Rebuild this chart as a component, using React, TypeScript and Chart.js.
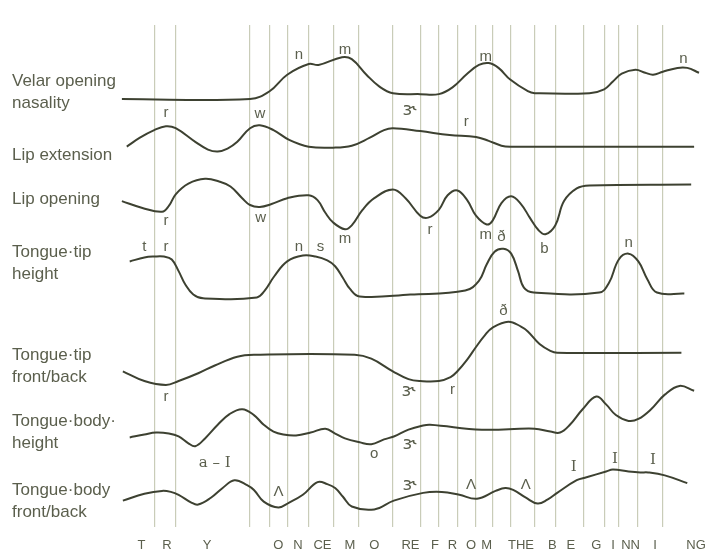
import { useEffect, useRef } from "react";
import { Chart, registerables } from "chart.js";
Chart.register(...registerables);

// Row titles (left) and the level each sits at
const rowTitles: string[][] = [
  ["Velar opening", "nasality"],
  ["Lip extension"],
  ["Lip opening"],
  ["Tongue·tip", "height"],
  ["Tongue·tip", "front/back"],
  ["Tongue·body·", "height"],
  ["Tongue·body", "front/back"],
];
const rowLevels = [447, 382, 337, 271, 165, 97, 26.5];

// Segment boundaries (time units)
const boundaries = [38, 60, 136, 156, 174, 196, 221, 247, 282, 310, 329, 348, 367, 384, 402, 427, 448, 477, 498, 513, 532, 558];

// Spelled utterance under the time axis
const words = ["T", "R", "Y", "O", "N", "CE", "M", "O", "RE", "F", "R", "O", "M", "THE", "B", "E", "G", "I", "NN", "I", "NG"];
const wordTimes = [25, 51, 92, 165, 185, 210, 238, 263, 300, 325, 343, 362, 378, 413, 445, 464, 490, 507, 525, 550, 592];

// Articulator trajectories: [time, level]
const velar: number[][] = [[5,440],[136,440],[156,448],[174,465],[196,476],[206,475],[230,483],[240,481],[255,465],[268,453],[282,446],[310,445],[329,445],[343,452],[358,466],[370,475],[380,477],[390,472],[402,460],[420,448],[427,446],[483,446],[498,450],[507,458],[516,466],[530,470],[540,467],[548,465],[558,468],[573,472],[583,472],[595,467]];
const lipExt: number[][] = [[10,391],[23,400],[38,408],[50,412],[60,410],[80,396],[93,388],[103,386],[113,389],[123,396],[136,410],[146,413],[160,408],[176,398],[196,391],[221,390],[240,392],[258,400],[273,408],[282,410],[310,407],[340,403],[367,401],[380,397],[393,392],[402,391],[590,391]];
const lipOpen: number[][] = [[5,335],[26,328],[46,324],[53,330],[60,342],[73,353],[90,358],[105,355],[116,350],[128,338],[136,331],[146,329],[158,332],[174,338],[196,341],[205,336],[213,323],[221,313],[233,306],[240,310],[251,326],[263,338],[282,347],[295,338],[310,320],[318,318],[329,326],[338,341],[348,346],[358,336],[367,320],[378,311],[384,315],[393,333],[403,340],[413,332],[422,318],[431,305],[438,301],[448,310],[457,335],[470,348],[483,351],[587,352]];
const tipHeight: number[][] = [[13,273],[28,277],[38,278],[48,278],[56,275],[63,263],[70,249],[78,239],[88,235],[143,236],[151,243],[161,258],[174,273],[190,279],[203,278],[215,274],[223,268],[231,256],[238,245],[248,237],[300,239],[356,243],[370,253],[378,270],[386,283],[395,286],[403,281],[410,263],[416,246],[426,241],[493,241],[503,251],[513,275],[523,281],[533,273],[542,255],[552,241],[580,240]];
const tipFront: number[][] = [[6,160],[28,150],[50,146],[63,150],[83,158],[100,166],[123,175],[140,177],[243,177],[260,173],[282,160],[298,152],[310,150],[329,150],[341,154],[348,160],[358,172],[367,185],[376,197],[384,205],[400,211],[413,206],[420,201],[432,188],[443,181],[450,179],[577,179]];
const bodyHeight: number[][] = [[13,92],[28,95],[40,97],[53,96],[63,93],[73,86],[80,83],[90,91],[103,105],[115,116],[128,121],[140,115],[150,105],[160,98],[170,95],[183,94],[198,97],[213,101],[223,96],[233,91],[248,87],[260,85],[273,90],[283,93],[298,100],[312,104],[320,105],[373,100],[427,101],[443,98],[453,97],[463,105],[476,121],[490,134],[500,126],[510,115],[523,109],[533,111],[546,121],[560,136],[575,145],[590,140]];
const bodyFront: number[][] = [[6,27],[28,34],[46,37],[55,36],[63,33],[76,25],[83,23],[96,30],[108,40],[120,48],[133,43],[140,38],[150,26],[165,20],[176,25],[190,33],[205,46],[215,44],[223,40],[231,31],[240,21],[263,18],[283,27],[313,35],[332,36],[350,33],[368,29],[387,37],[397,40],[405,38],[418,30],[430,24],[440,28],[450,35],[470,48],[480,51],[500,57],[507,59],[523,57],[535,56],[543,56],[560,53],[583,45]];

const seriesNames = ["Velar opening nasality", "Lip extension", "Lip opening", "Tongue-tip height", "Tongue-tip front/back", "Tongue-body height", "Tongue-body front/back"];
const seriesData = [velar, lipExt, lipOpen, tipHeight, tipFront, bodyHeight, bodyFront];

// Phonetic markers: [symbol, time, level]
const markers: [string, number, number][] = [
  ["n", 186, 485], ["m", 233, 491], ["m", 377, 483], ["n", 579, 481],
  ["r", 50, 426], ["w", 146, 425], ["ɝ", 299, 428], ["r", 357, 416],
  ["r", 50, 315], ["w", 147, 318], ["m", 233, 296], ["r", 320, 305], ["m", 377, 300], ["ð", 393, 298], ["b", 437, 286],
  ["t", 28, 288], ["r", 50, 288], ["n", 186, 288], ["s", 208, 288], ["n", 523, 292],
  ["ð", 395, 222], ["r", 50, 134], ["ɝ", 298, 139], ["r", 343, 141],
  ["a – I", 100, 66], ["o", 263, 75], ["ɝ", 299, 85],
  ["Λ", 165, 36], ["ɝ", 299, 43], ["Λ", 362, 43], ["Λ", 418, 43], ["I", 467, 61], ["I", 509, 70], ["I", 548, 69],
];

const INK = "#3d4131";
const TEXT = "#5b5f4d";
const RULE = "#c9ccb8";
const SANS = "'Liberation Sans', Arial, sans-serif";

const markerPlugin = {
  id: "markers",
  afterDatasetsDraw(chart: any) {
    const { ctx, scales } = chart;
    ctx.save();
    ctx.fillStyle = TEXT;
    ctx.textAlign = "center";
    ctx.textBaseline = "middle";
    for (const [s, t, v] of markers) {
      if (s.includes("I")) ctx.font = "15px 'DejaVu Serif', serif";
      else if (s === "ɝ") ctx.font = "18px 'DejaVu Sans', sans-serif";
      else ctx.font = `15px ${SANS}`;
      ctx.fillText(s, scales.x.getPixelForValue(t), scales.y.getPixelForValue(v));
    }
    ctx.restore();
  },
};

export default function App() {
  const ref = useRef<HTMLCanvasElement>(null);
  useEffect(() => {
    if (!ref.current) return;
    const chart = new Chart(ref.current, {
      type: "line",
      data: {
        datasets: seriesData.map((d, i) => ({
          label: seriesNames[i],
          data: d.map(([x, y]) => ({ x, y })),
          borderColor: INK,
          borderWidth: 2,
          pointRadius: 0,
          fill: false,
          tension: 0.4,
        })),
      },
      options: {
        responsive: false,
        animation: false,
        layout: { padding: { left: 12, top: 12, right: 0, bottom: 0 } },
        plugins: { legend: { display: false }, tooltip: { enabled: false } },
        scales: {
          x: {
            type: "linear",
            position: "bottom",
            min: 0,
            max: 600,
            afterBuildTicks: (axis: any) => { axis.ticks = boundaries.map((v) => ({ value: v })); },
            afterFit: (axis: any) => { axis.height = 0; },
            grid: { display: true, color: RULE, lineWidth: 1.2, drawTicks: false },
            border: { display: false },
            ticks: { display: false },
          },
          words: {
            type: "linear",
            position: "bottom",
            min: 0,
            max: 600,
            afterBuildTicks: (axis: any) => { axis.ticks = wordTimes.map((v) => ({ value: v })); },
            afterFit: (axis: any) => { axis.height = 24; },
            grid: { display: false, drawTicks: false },
            border: { display: false },
            ticks: {
              autoSkip: false,
              maxRotation: 0,
              padding: 11,
              color: TEXT,
              font: { family: SANS, size: 13 },
              callback: (_v: any, i: number) => words[i],
            },
          },
          y: {
            type: "linear",
            position: "left",
            min: 0,
            max: 516,
            afterBuildTicks: (axis: any) => { axis.ticks = rowLevels.map((v) => ({ value: v })); },
            afterFit: (axis: any) => { axis.width = 105; },
            grid: { display: false, drawTicks: false },
            border: { display: false },
            ticks: {
              crossAlign: "far",
              autoSkip: false,
              color: TEXT,
              font: { family: SANS, size: 17, lineHeight: 1.3 },
              callback: (_v: any, i: number) => rowTitles[i],
            },
          },
        },
      },
      plugins: [markerPlugin],
    } as any);
    return () => chart.destroy();
  }, []);
  return (
    <div style={{ position: "fixed", left: 0, top: 0, background: "#fff" }}>
      <canvas ref={ref} width={717} height={552} />
    </div>
  );
}
